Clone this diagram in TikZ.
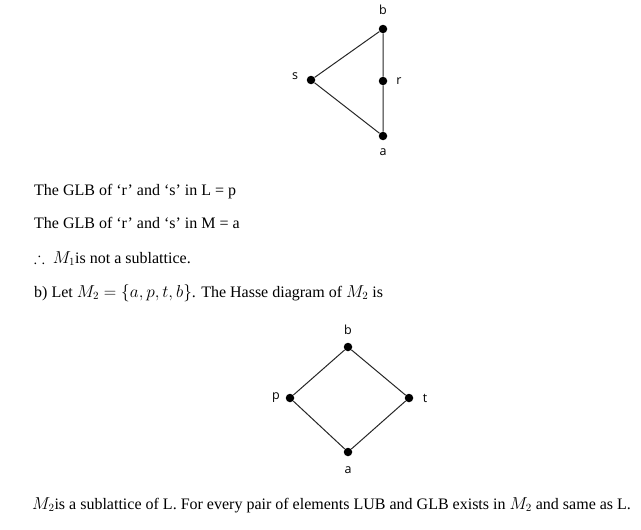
\documentclass[tikz,border=0pt]{standalone}
\usepackage{amssymb}
\usepackage{fontspec}
\setmainfont{Liberation Serif}
\newfontfamily\lblfont{Open Sans}
\begin{document}
\begin{tikzpicture}[x=1pt,y=-1pt,
  dot/.style={circle,fill=black,inner sep=0pt,minimum size=8.5pt},
  lbl/.style={font=\lblfont\fontsize{12.5}{14}\selectfont,inner sep=0pt},
  txt/.style={anchor=base west,inner sep=0pt,font=\fontsize{16}{19}\selectfont},
  edge/.style={line width=1pt,draw=black!85}]
\useasboundingbox (0,0) rectangle (641,530);
% first diagram
\node[dot] (b1) at (383,29) {};
\node[dot] (s1) at (311,80) {};
\node[dot] (r1) at (383,81) {};
\node[dot] (a1) at (383,136) {};
\draw[edge] (s1) -- (b1) -- (r1) -- (a1) -- (s1);
\node[lbl] (lb1) at (383,10) {b};
\node[lbl] (ls1) at (295,76) {s};
\node[lbl] (lr1) at (399,81) {r};
\node[lbl] (la1) at (383,152) {a};
% text
\node[txt] (t1) at (34,195) {The GLB of ‘r’ and ‘s’ in L = p};
\node[txt] (t2) at (34,228) {The GLB of ‘r’ and ‘s’ in M = a};
\node[txt] (t3) at (34,263) {$\therefore$ \ $M_1$is not a sublattice.};
\node[txt] (t4) at (34,297) {b) Let $M_2=\{a,p,t,b\}$. The Hasse diagram of $M_2$ is};
% second diagram
\node[dot] (b2) at (348,347) {};
\node[dot] (p2) at (290,398) {};
\node[dot] (t2d) at (409,398) {};
\node[dot] (a2) at (348,452) {};
\draw[edge] (a2) -- (p2) -- (b2) -- (t2d) -- (a2);
\node[lbl] (lb2) at (348,330) {b};
\node[lbl] (lp2) at (276,398) {p};
\node[lbl] (lt2) at (425,398) {t};
\node[lbl] (la2) at (348,470) {a};
\node[txt] (t5) at (32,509) {$M_2$is a sublattice of L. For every pair of elements LUB and GLB exists in $M_2$ and same as L.};
\end{tikzpicture}
\end{document}
